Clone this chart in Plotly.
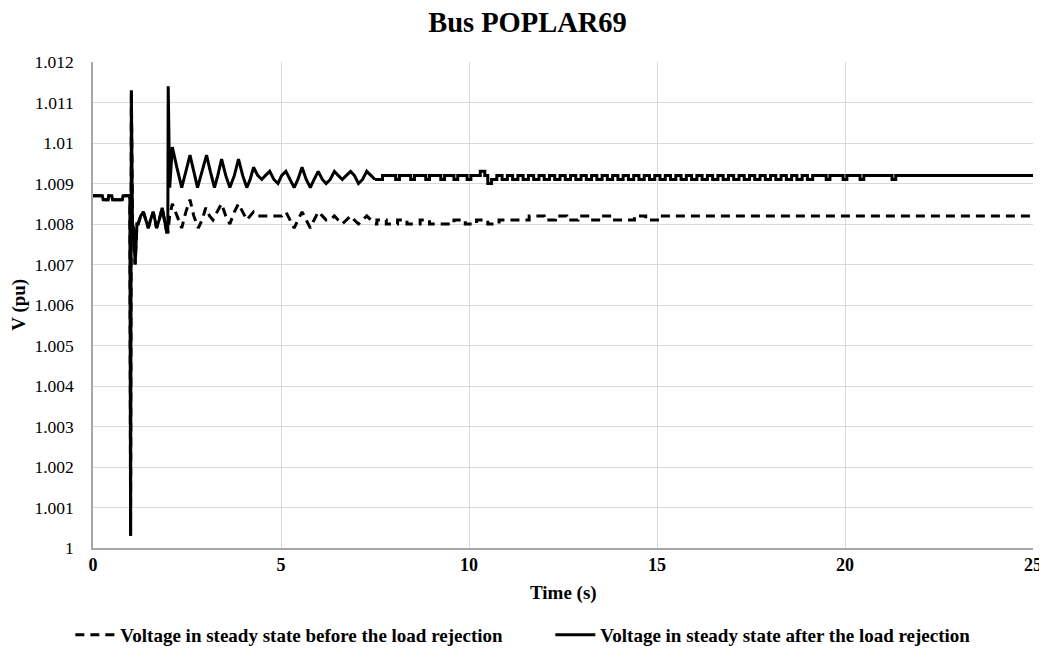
import plotly.graph_objects as go

# ---------------- data ----------------
# transient part (linear), voltage after load rejection
t_after = [0.00, 0.25, 0.27, 0.40, 0.42, 0.50, 0.52, 0.78, 0.80, 0.98,
           1.00, 1.02, 1.05, 1.08, 1.12, 1.17, 1.20, 1.27, 1.34, 1.40, 1.47, 1.53, 1.60, 1.65, 1.69, 1.76, 1.84, 1.90, 1.96,
           1.99, 2.00, 2.04, 2.11, 2.23, 2.36, 2.47, 2.58, 2.68, 2.78, 2.90, 3.02, 3.12, 3.23, 3.32, 3.42, 3.53, 3.64,
           3.76, 3.87, 3.98, 4.09, 4.18, 4.27, 4.38, 4.49, 4.59, 4.70, 4.81, 4.92, 5.02, 5.13, 5.24, 5.35, 5.45, 5.56,
           5.67, 5.78, 5.88, 5.99, 6.10, 6.20, 6.31, 6.42, 6.52, 6.63, 6.74, 6.85, 6.95, 7.06, 7.17, 7.28, 7.39, 7.50]
v_after = [1.0087, 1.0087, 1.0086, 1.0086, 1.0087, 1.0087, 1.0086, 1.0086, 1.0087, 1.0087,
           1.0003, 1.0113, 1.0080, 1.0079, 1.0070, 1.0080, 1.0080, 1.0082, 1.0083, 1.0081, 1.0079, 1.0081, 1.0083, 1.0081, 1.0079, 1.0081, 1.0084, 1.0081, 1.0078,
           1.0078, 1.0114, 1.0089, 1.0099, 1.0094, 1.0089, 1.0093, 1.0097, 1.0093, 1.0089, 1.0093, 1.0097, 1.0093, 1.0089, 1.0092, 1.0096, 1.0092, 1.0089,
           1.0092, 1.0096, 1.0092, 1.0089, 1.0091, 1.0094, 1.0092, 1.0091, 1.0092, 1.0093, 1.0091, 1.0090, 1.0092, 1.0093, 1.0091, 1.0089, 1.0091, 1.0094,
           1.0091, 1.0089, 1.0091, 1.0093, 1.0091, 1.0090, 1.0091, 1.0093, 1.0092, 1.0091, 1.0092, 1.0093, 1.0092, 1.0090, 1.0091, 1.0093, 1.0092, 1.0091]

# quantised steady part (step), voltage after load rejection
t_after_steady = [7.50, 7.70, 8.05, 8.15, 8.45, 8.55, 8.85, 8.95, 9.25, 9.35, 9.60, 9.70, 9.95, 10.05, 10.30, 10.42, 10.50, 10.60,
                  10.74, 10.88, 11.02, 11.16, 11.30, 11.44, 11.58, 11.72, 11.86, 12.00, 12.14, 12.28, 12.42, 12.56, 12.70, 12.84,
                  12.98, 13.12, 13.26, 13.40, 13.54, 13.68, 13.82, 13.96, 14.10, 14.24, 14.38, 14.52, 14.66, 14.80, 14.94, 15.08,
                  15.22, 15.36, 15.50, 15.64, 15.78, 15.92, 16.06, 16.20, 16.34, 16.48, 16.62, 16.76, 16.90, 17.04, 17.18, 17.32,
                  17.46, 17.60, 17.74, 17.88, 18.02, 18.16, 18.30, 18.44, 18.58, 18.72, 18.86, 19.00, 19.14, 19.50, 19.60, 19.95,
                  20.05, 20.40, 20.50, 21.25, 21.35, 25.00]
v_after_steady = [1.0091, 1.0092, 1.0091, 1.0092, 1.0091, 1.0092, 1.0091, 1.0092, 1.0091, 1.0092, 1.0091, 1.0092, 1.0091, 1.0092, 1.0093, 1.0092, 1.0090, 1.0091,
                  1.0092, 1.0091, 1.0092, 1.0091, 1.0092, 1.0091, 1.0092, 1.0091, 1.0092, 1.0091, 1.0092, 1.0091, 1.0092, 1.0091, 1.0092, 1.0091,
                  1.0092, 1.0091, 1.0092, 1.0091, 1.0092, 1.0091, 1.0092, 1.0091, 1.0092, 1.0091, 1.0092, 1.0091, 1.0092, 1.0091, 1.0092, 1.0091,
                  1.0092, 1.0091, 1.0092, 1.0091, 1.0092, 1.0091, 1.0092, 1.0091, 1.0092, 1.0091, 1.0092, 1.0091, 1.0092, 1.0091, 1.0092, 1.0091,
                  1.0092, 1.0091, 1.0092, 1.0091, 1.0092, 1.0091, 1.0092, 1.0091, 1.0092, 1.0091, 1.0092, 1.0091, 1.0092, 1.0091, 1.0092, 1.0091,
                  1.0092, 1.0091, 1.0092, 1.0091, 1.0092, 1.0092]

# transient part (linear), voltage before load rejection
t_before = [0.00, 0.25, 0.27, 0.40, 0.42, 0.50, 0.52, 0.78, 0.80, 0.98,
            1.00, 1.02, 1.05, 1.08, 1.12, 1.17, 1.20, 1.27, 1.34, 1.40, 1.47, 1.53, 1.60, 1.65, 1.69, 1.76, 1.84, 1.90, 1.96,
            1.99, 2.04, 2.11, 2.23, 2.36, 2.47, 2.58, 2.68, 2.80, 2.90, 3.00, 3.10, 3.19, 3.30, 3.42, 3.53, 3.64,
            3.76, 3.87, 3.98, 4.09, 4.18, 4.27, 4.38, 4.49, 4.59, 4.70, 4.81, 4.92, 5.02, 5.13, 5.24, 5.35, 5.45, 5.56,
            5.67, 5.78, 5.88, 5.99, 6.10, 6.20, 6.31, 6.42, 6.52, 6.63, 6.74, 6.85, 6.95, 7.06, 7.17, 7.28, 7.39, 7.50]
v_before = [1.0087, 1.0087, 1.0086, 1.0086, 1.0087, 1.0087, 1.0086, 1.0086, 1.0087, 1.0087,
            1.0003, 1.0113, 1.0080, 1.0079, 1.0070, 1.0080, 1.0080, 1.0082, 1.0083, 1.0081, 1.0079, 1.0081, 1.0083, 1.0081, 1.0079, 1.0081, 1.0084, 1.0081, 1.0078,
            1.0078, 1.0082, 1.0085, 1.0082, 1.0079, 1.0083, 1.0086, 1.0082, 1.0079, 1.0081, 1.0084, 1.0082, 1.0081, 1.0083, 1.0085, 1.0082, 1.0080,
            1.0083, 1.0085, 1.0083, 1.0081, 1.0082, 1.0083, 1.0082, 1.0082, 1.0082, 1.0082, 1.0082, 1.0082, 1.0082, 1.0083, 1.0081, 1.0079, 1.0081, 1.0083,
            1.0081, 1.0079, 1.0081, 1.0083, 1.0082, 1.0081, 1.0081, 1.0082, 1.0081, 1.0080, 1.0081, 1.0082, 1.0081, 1.0080, 1.0081, 1.0082, 1.0081, 1.0080]

# quantised steady part (step), voltage before load rejection
t_before_steady = [7.50, 7.55, 7.80, 8.10, 8.35, 8.70, 8.95, 9.30, 9.60, 9.90, 10.20, 10.50, 10.80, 11.10, 11.60, 12.00, 12.30,
                   12.60, 12.90, 13.20, 13.50, 13.80, 14.40, 14.70, 15.10, 25.00]
v_before_steady = [1.0080, 1.0081, 1.0080, 1.0081, 1.0080, 1.0081, 1.0080, 1.0080, 1.0081, 1.0080, 1.0081, 1.0080, 1.0081, 1.0081, 1.0082, 1.0081, 1.0082,
                   1.0081, 1.0082, 1.0081, 1.0082, 1.0081, 1.0082, 1.0081, 1.0082, 1.0082]

x_ticks = [0, 5, 10, 15, 20, 25]
y_ticks = [1.0, 1.001, 1.002, 1.003, 1.004, 1.005, 1.006, 1.007, 1.008, 1.009, 1.01, 1.011, 1.012]
y_tick_text = ["1", "1.001", "1.002", "1.003", "1.004", "1.005", "1.006", "1.007", "1.008", "1.009", "1.01", "1.011", "1.012"]

name_before = "Voltage in steady state before the load rejection"
name_after = "Voltage in steady state after the load rejection"

# ---------------- figure ----------------
FONT = "Liberation Serif, Times New Roman, serif"
fig = go.Figure()

fig.add_trace(go.Scatter(x=t_before, y=v_before, mode="lines",
                         name="<b>" + name_before + "</b>" + "&nbsp;" * 9, legendgroup="b",
                         line=dict(color="black", width=3, dash="9px,6px")))
fig.add_trace(go.Scatter(x=t_before_steady, y=v_before_steady, mode="lines", name=name_before, legendgroup="b",
                         showlegend=False, line=dict(color="black", width=3, dash="9px,6px", shape="hv")))
fig.add_trace(go.Scatter(x=t_after, y=v_after, mode="lines", name="<b>" + name_after + "</b>", legendgroup="a",
                         line=dict(color="black", width=3)))
fig.add_trace(go.Scatter(x=t_after_steady, y=v_after_steady, mode="lines", name=name_after, legendgroup="a",
                         showlegend=False, line=dict(color="black", width=3, shape="hv")))

fig.update_layout(
    width=1039, height=653,
    margin=dict(l=85, r=14, t=54, b=113, autoexpand=False),
    paper_bgcolor="white", plot_bgcolor="white",
    font=dict(family=FONT, color="black", size=17),
    title=dict(text="<b>Bus POPLAR69</b>", x=0.5, xanchor="center", y=0.979, yanchor="middle",
               font=dict(family=FONT, size=28.5, color="black")),
    showlegend=True,
    legend=dict(orientation="h", xref="container", x=0.060, xanchor="left",
                yref="container", y=0.04, yanchor="middle",
                font=dict(family=FONT, size=19, color="black"), itemwidth=40,
                bgcolor="rgba(0,0,0,0)", traceorder="normal"),
    annotations=[
        dict(text="<b>Time (s)</b>", xref="paper", yref="paper", x=0.5, y=-0.093,
             xanchor="center", yanchor="middle", showarrow=False,
             font=dict(family=FONT, size=19, color="black")),
        dict(text="<b>V (pu)</b>", xref="paper", yref="paper", x=-0.079, y=0.5, textangle=-90,
             xanchor="center", yanchor="middle", showarrow=False,
             font=dict(family=FONT, size=19, color="black")),
    ],
)

fig.update_xaxes(range=[0, 25], tickvals=x_ticks, ticktext=["<b>%d</b>" % v for v in x_ticks],
                 showgrid=True, gridcolor="#d9d9d9", gridwidth=1,
                 showline=True, linecolor="#a6a6a6", linewidth=1.5,
                 ticks="", zeroline=False, automargin=False, ticklabelstandoff=0,
                 tickfont=dict(family=FONT, size=18, color="black"))
fig.update_yaxes(range=[1.0, 1.012], tickvals=y_ticks, ticktext=y_tick_text,
                 showgrid=True, gridcolor="#d9d9d9", gridwidth=1,
                 showline=True, linecolor="#a6a6a6", linewidth=1.5,
                 ticks="", zeroline=False, automargin=False, ticklabelstandoff=14,
                 tickfont=dict(family=FONT, size=17.5, color="black"))

fig.write_html("out.html")
